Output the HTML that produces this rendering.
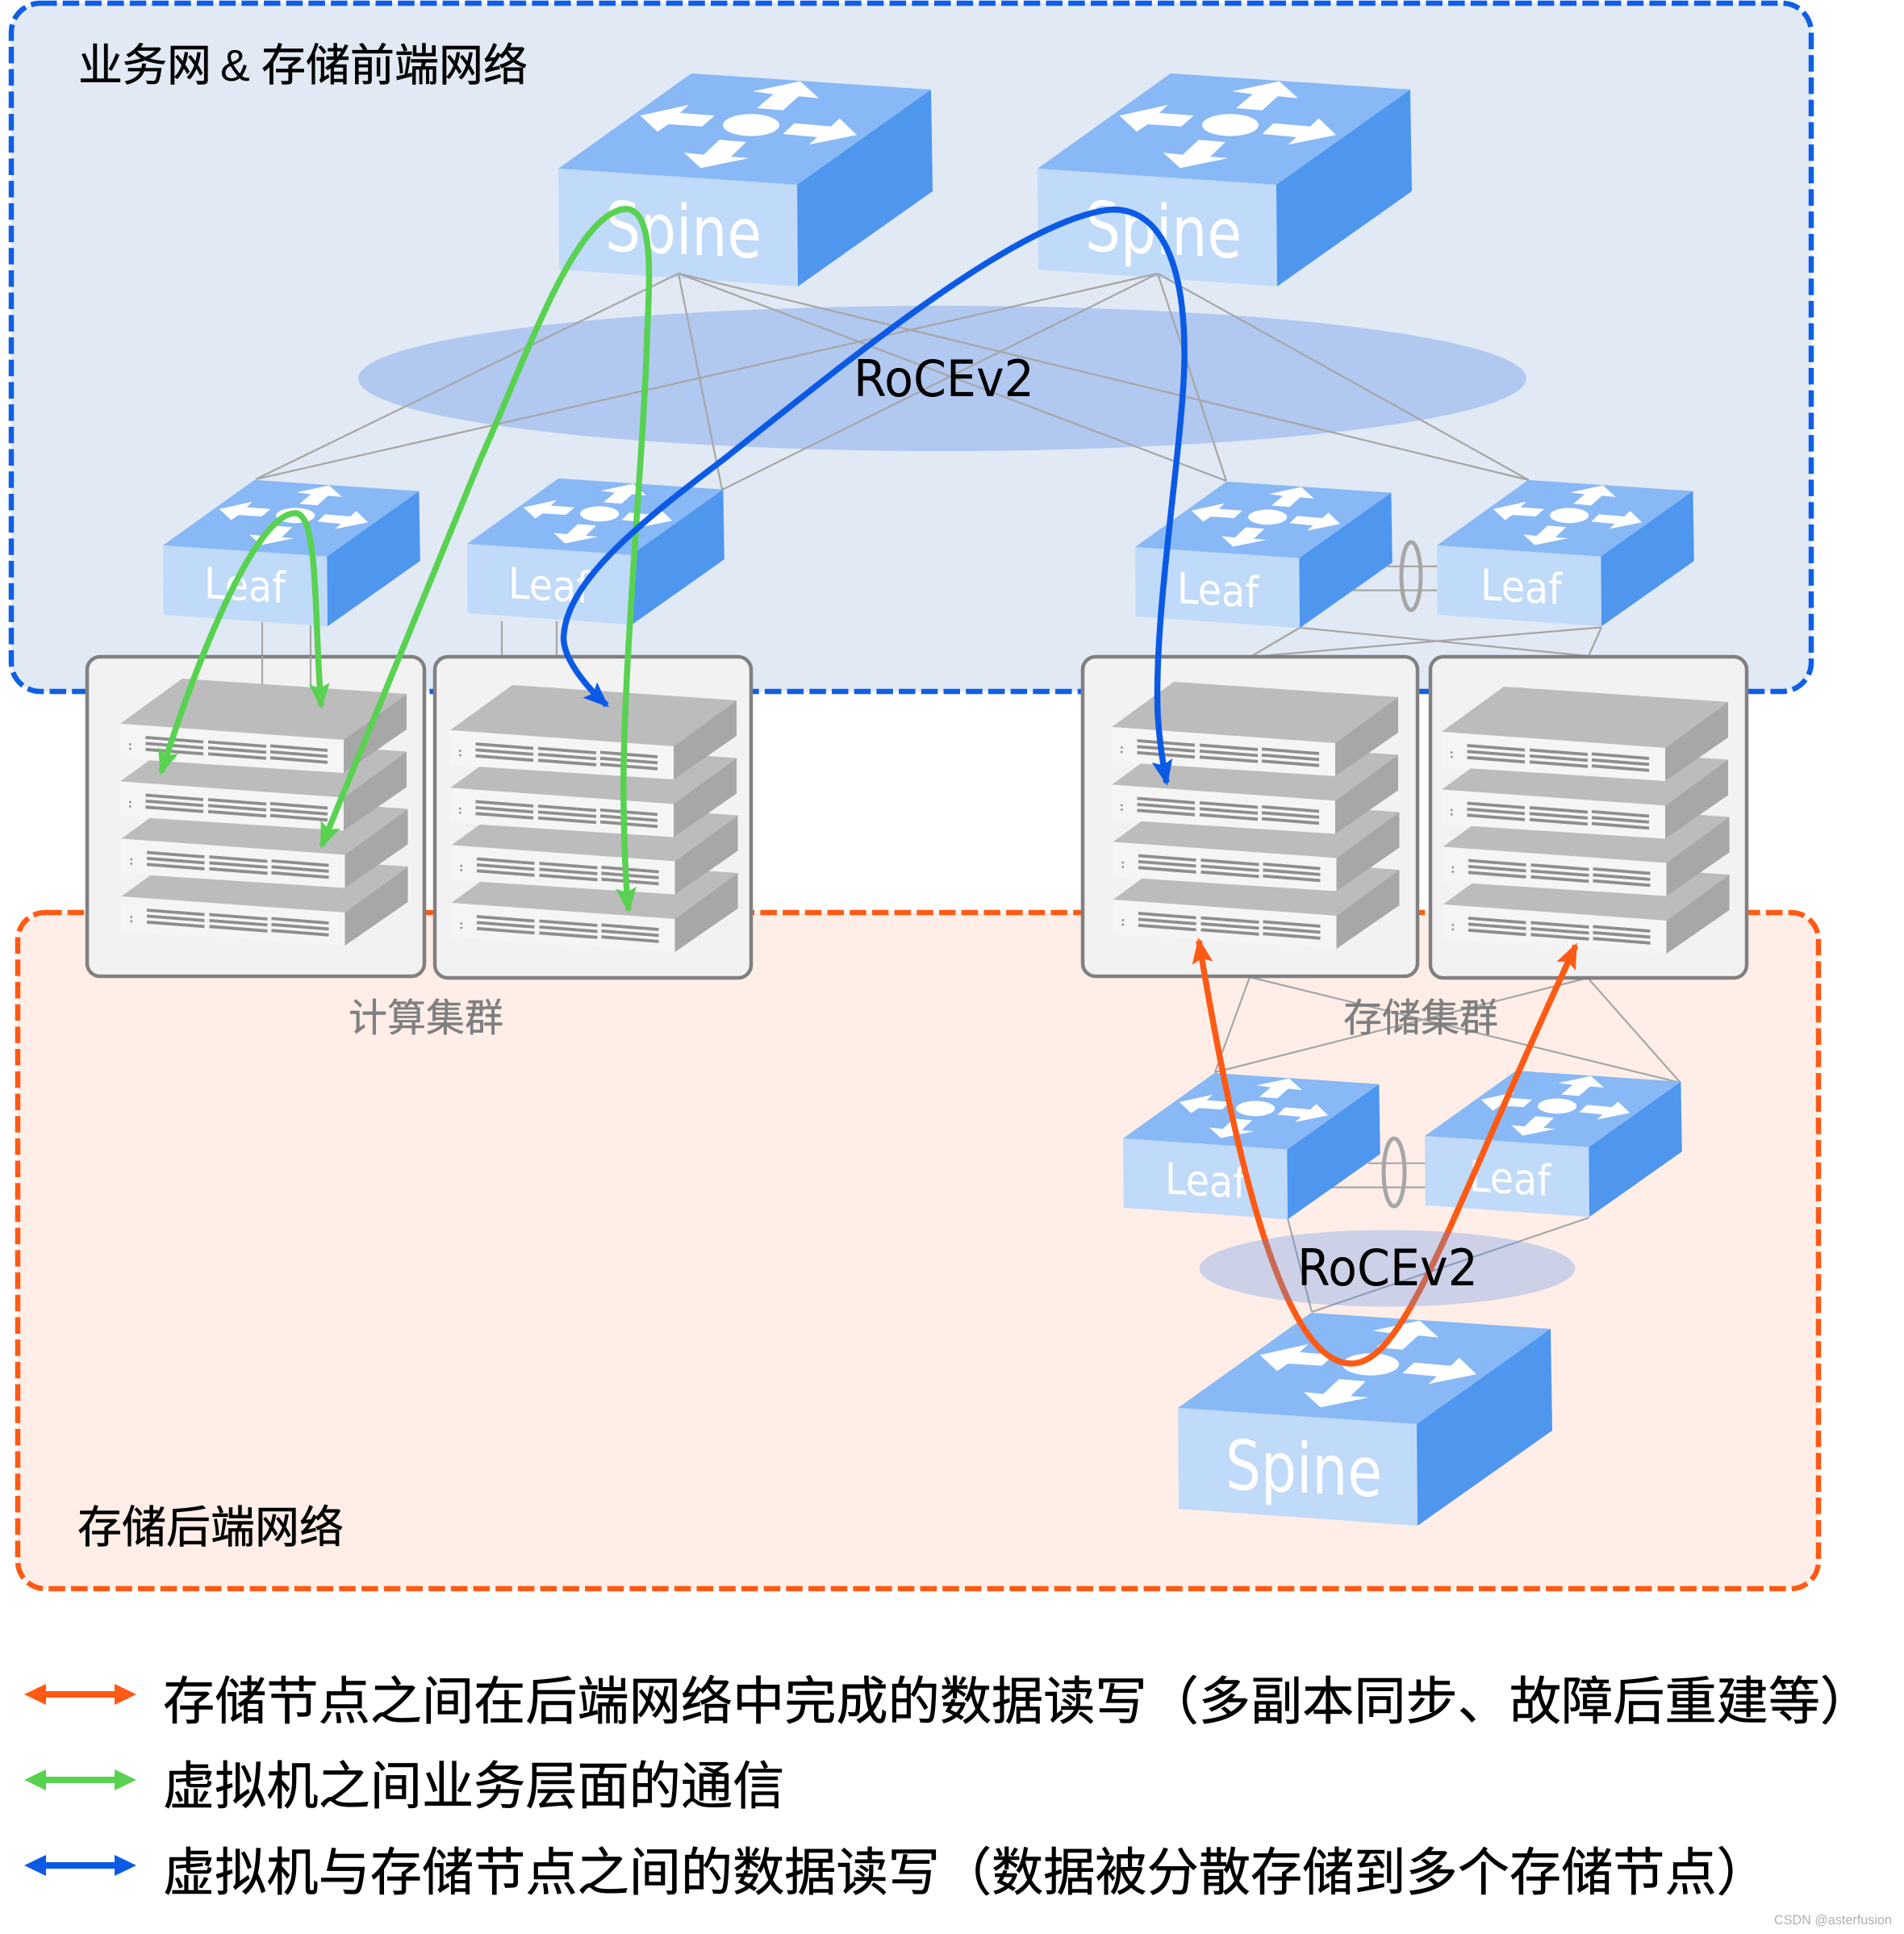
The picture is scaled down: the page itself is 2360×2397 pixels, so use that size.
<!DOCTYPE html>
<html><head><meta charset="utf-8"><style>
html,body{margin:0;padding:0;background:#fff}
svg{display:block}
text{font-family:"Liberation Sans","Noto Sans CJK SC",sans-serif}
.n{font-family:"DejaVu Sans",sans-serif}
.c{stroke:#000;stroke-width:.6}
.g{stroke:#7f7f7f;stroke-width:.4}
</style></head><body>
<svg xmlns="http://www.w3.org/2000/svg" width="2360" height="2397" viewBox="0 0 2360 2397">
<defs>
<g id="sw">
<polygon points="0,0 165,-118 462,-98 296,20" fill="#88b8f5"/>
<polygon points="0,0 296,20 297,146 1,125" fill="#c0daf9"/>
<polygon points="296,20 462,-98 464,28 297,146" fill="#4e96ee"/>
<g fill="#fff">
<polygon points="240.9,-95.7 299.8,-108.3 323,-87.3 298,-89.7 278.4,-72.3 246.2,-75 266.6,-92.3"/>
<polygon points="101.6,-65.7 161.6,-79 150.9,-69 193.7,-65.7 178.4,-52.3 136.6,-55 123,-45.7"/>
<ellipse cx="239" cy="-54" rx="35" ry="13.7"/>
<polygon points="292.6,-56.3 338,-52.3 348.7,-62.3 370,-41.7 310.5,-29.7 321,-39 278.4,-43"/>
<polygon points="199.8,-35.7 233,-33 214,-14.7 236.6,-13 176.6,-0.7 155.9,-19.7 180,-17.3"/>
</g>
</g>
<g id="leaf"><use href="#sw" transform="scale(.687)"/></g>
<g id="srv">
<polygon points="0,0 77,-56 355,-37 277,20" fill="#bcbcbc"/>
<polygon points="0,0 277,20 277,61 0,43" fill="#f5f5f5"/>
<polygon points="277,20 355,-37 355,7 277,61" fill="#a7a7a7"/>
<path d="M31.5 17L103 22.5M31.5 24.4L103 29.9M31.5 31.8L103 37.3M109 22.5L181 28M109 29.9L181 35.4M109 37.3L181 42.8M186 27.4L257 33M186 34.8L257 40.4M186 42.2L257 47.8" stroke="#8e8e8e" stroke-width="3.8" fill="none"/>
<circle cx="12.3" cy="25.5" r="1.4" fill="#8e8e8e"/><circle cx="12.3" cy="31" r="1.4" fill="#8e8e8e"/>
</g>
<g id="stk">
<use href="#srv" x="1.5" y="214"/><use href="#srv" x="1.5" y="142.5"/><use href="#srv" x="0" y="71.5"/><use href="#srv" x="0" y="0"/>
</g>
<marker id="mg" markerUnits="userSpaceOnUse" markerWidth="32" markerHeight="28" viewBox="0 0 32 28" refX="28" refY="14" orient="auto-start-reverse"><path d="M0,1 L32,14 L0,27 L6,14 Z" fill="#58d250"/></marker>
<marker id="mb" markerUnits="userSpaceOnUse" markerWidth="32" markerHeight="28" viewBox="0 0 32 28" refX="28" refY="14" orient="auto-start-reverse"><path d="M0,1 L32,14 L0,27 L6,14 Z" fill="#0b5ae6"/></marker>
<marker id="mo" markerUnits="userSpaceOnUse" markerWidth="32" markerHeight="28" viewBox="0 0 32 28" refX="28" refY="14" orient="auto-start-reverse"><path d="M0,1 L32,14 L0,27 L6,14 Z" fill="#ff5a14"/></marker>
</defs>

<rect x="14" y="4" width="2231" height="853" rx="36" fill="#e1e9f4" stroke="#0f5fe6" stroke-width="6.5" stroke-dasharray="20.5 7.2"/>
<rect x="22" y="1131" width="2232" height="838" rx="34" fill="#ffeee8" stroke="#ff5a14" stroke-width="6.5" stroke-dasharray="20.5 7.2"/>

<ellipse cx="1168" cy="469" rx="724" ry="90" fill="#b1c8f0"/>

<g stroke="#a6a6a6" stroke-width="2.2" fill="none">
<path d="M325 771V813M385 775V813M622 770V813M690 770V813"/>
<path d="M1720 702H1781M1677 731.6H1781"/>
<path d="M1696 1441.7H1767M1650 1471.6H1767"/>
<path d="M1611 778L1550 814M1611 778L1969 813M1985 777.5L1550 814M1985 777.5L1969 813"/>
<path d="M1549 1211L1506 1329M1549 1211L2083 1342M1968 1212L1506 1329M1968 1212L2083 1342"/>
<path d="M1596 1510L1626 1626M1970 1509L1626 1626"/>
</g>

<use href="#sw" x="692" y="209"/>
<text class="n" transform="matrix(1 .05 0 1 750 310)" font-size="85" fill="#fff" textLength="194" lengthAdjust="spacingAndGlyphs">Spine</text>
<use href="#sw" x="1286" y="209"/>
<text class="n" transform="matrix(1 .05 0 1 1345 310)" font-size="85" fill="#fff" textLength="194" lengthAdjust="spacingAndGlyphs">Spine</text>
<use href="#sw" x="1460" y="1745"/>
<text class="n" transform="matrix(1 .05 0 1 1519 1845)" font-size="85" fill="#fff" textLength="194" lengthAdjust="spacingAndGlyphs">Spine</text>

<g stroke="#a6a6a6" stroke-width="2.2" fill="none">
<path d="M841 339L317 594M841 339L895 607M841 339L1520 596M841 339L1895 595"/>
<path d="M1435 339L317 594M1435 339L895 607M1435 339L1520 596M1435 339L1895 595"/>
</g>

<use href="#leaf" transform="translate(202,676)"/>
<use href="#leaf" transform="translate(579,674)"/>
<use href="#leaf" transform="translate(1407,678)"/>
<use href="#leaf" transform="translate(1781,676)"/>
<use href="#leaf" transform="translate(1392,1411)"/>
<use href="#leaf" transform="translate(1766,1408)"/>
<g font-size="53" fill="#fff">
<text class="n" transform="matrix(1 .06 0 1 253 741)" textLength="101" lengthAdjust="spacingAndGlyphs">Leaf</text>
<text class="n" transform="matrix(1 .06 0 1 630 741)" textLength="101" lengthAdjust="spacingAndGlyphs">Leaf</text>
<text class="n" transform="matrix(1 .06 0 1 1459 747)" textLength="101" lengthAdjust="spacingAndGlyphs">Leaf</text>
<text class="n" transform="matrix(1 .06 0 1 1835 743)" textLength="101" lengthAdjust="spacingAndGlyphs">Leaf</text>
<text class="n" transform="matrix(1 .06 0 1 1444 1479)" textLength="101" lengthAdjust="spacingAndGlyphs">Leaf</text>
<text class="n" transform="matrix(1 .06 0 1 1821 1476)" textLength="101" lengthAdjust="spacingAndGlyphs">Leaf</text>
</g>

<g fill="none" stroke="#a6a6a6" stroke-width="5">
<ellipse cx="1749" cy="714" rx="12" ry="42"/>
<ellipse cx="1728" cy="1453" rx="13" ry="42"/>
</g>

<g fill="#f2f2f2" stroke="#808080" stroke-width="4.5">
<rect x="108" y="814" width="418" height="396" rx="16"/>
<rect x="539" y="814" width="392" height="398" rx="16"/>
<rect x="1342" y="814" width="415" height="396" rx="16"/>
<rect x="1773" y="814" width="392" height="398" rx="16"/>
</g>
<path d="M325 813V848M385 813V850" stroke="#a6a6a6" stroke-width="2.2" fill="none"/>

<use href="#stk" x="149" y="897"/>
<use href="#stk" x="558" y="905"/>
<use href="#stk" x="1378" y="901"/>
<use href="#stk" x="1787" y="907"/>

<path d="M1486 1166C1528 1420 1588 1690 1675 1690C1743 1690 1800 1500 1953 1172" fill="none" stroke="#ff5a14" stroke-width="7.5" marker-start="url(#mo)" marker-end="url(#mo)"/>
<ellipse cx="1719.5" cy="1572" rx="233" ry="47.5" fill="#558de8" fill-opacity=".3"/>

<text class="n" x="1058" y="491" font-size="62" fill="#000" textLength="224" lengthAdjust="spacingAndGlyphs">RoCEv2</text>
<text class="n" x="1608" y="1593" font-size="62" fill="#000" textLength="224" lengthAdjust="spacingAndGlyphs">RoCEv2</text>

<g fill="none" stroke-width="7.5">
<path d="M200 957C250 800 320 634 367 636C395 640 389 760 398 875" stroke="#58d250" marker-start="url(#mg)" marker-end="url(#mg)"/>
<path d="M399 1048C463 893 529 731 595 570C650 450 712 262 776 259C815 260 803 370 802 420C798 560 770 850 773 1000C774 1060 776 1100 779 1128" stroke="#58d250" marker-start="url(#mg)" marker-end="url(#mg)"/>
<path d="M752 874C720 845 695 810 699 785C705 720 790 650 896 570C1060 440 1260 275 1374 260C1440 255 1470 330 1468 450C1465 560 1430 760 1435 885C1437 920 1442 950 1446 970" stroke="#0b5ae6" marker-start="url(#mb)" marker-end="url(#mb)"/>
</g>

<text class="c" x="97" y="100" font-size="55" fill="#000">业务网</text>
<text x="273" y="100" font-size="55" fill="#000">&amp;</text>
<text class="c" x="324" y="100" font-size="55" fill="#000">存储前端网络</text>
<text class="c" x="96" y="1912" font-size="55" fill="#000">存储后端网络</text>
<text class="g" x="432" y="1278" font-size="48" fill="#7f7f7f">计算集群</text>
<text class="g" x="1665" y="1278" font-size="48" fill="#7f7f7f">存储集群</text>

<polygon points="30,2100 57,2087 57,2096 142,2096 142,2087 169,2100 142,2113 142,2104 57,2104 57,2113" fill="#ff5a14"/>
<polygon points="30,2206 57,2193 57,2202 142,2202 142,2193 169,2206 142,2219 142,2210 57,2210 57,2219" fill="#58d250"/>
<polygon points="30,2312 57,2299 57,2308 142,2308 142,2299 169,2312 142,2325 142,2316 57,2316 57,2325" fill="#0b5ae6"/>
<text class="c" x="202" y="2131" font-size="64.2" fill="#000">存储节点之间在后端网络中完成的数据读写（多副本同步、故障后重建等）</text>
<text class="c" x="202" y="2236" font-size="64.2" fill="#000">虚拟机之间业务层面的通信</text>
<text class="c" x="202" y="2343" font-size="64.2" fill="#000">虚拟机与存储节点之间的数据读写（数据被分散存储到多个存储节点）</text>
<text x="2199" y="2385" font-size="16.2" fill="#b0b0b0">CSDN @asterfusion</text>
</svg>
</body></html>
